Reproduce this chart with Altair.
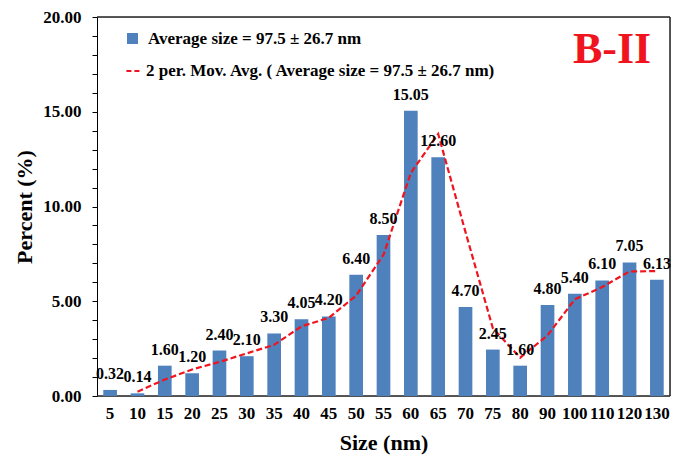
import altair as alt
import pandas as pd

sizes = ["5", "10", "15", "20", "25", "30", "35", "40", "45", "50", "55",
         "60", "65", "70", "75", "80", "90", "100", "110", "120", "130"]
percents = [0.32, 0.14, 1.60, 1.20, 2.40, 2.10, 3.30, 4.05, 4.20, 6.40, 8.50,
            15.05, 12.60, 4.70, 2.45, 1.60, 4.80, 5.40, 6.10, 7.05, 6.13]
bar_series = "Average size = 97.5 ± 26.7 nm"
avg_series = "2 per. Mov. Avg. ( Average size = 97.5 ± 26.7 nm)"
y_ticks = list(range(0, 21))

df = pd.DataFrame({"size": sizes, "percent": percents, "order": range(len(sizes))})

FONT = "Liberation Serif"
BLUE = "#4f81bd"
RED = "#f0141e"
W, H = 573, 379

x_scale = alt.Scale(paddingInner=0.5, paddingOuter=0.23)
y_scale = alt.Scale(domain=[0, 20], nice=False)

x_axis = alt.Axis(labelAngle=0, ticks=False, domain=False, labelPadding=9,
                  labelFontSize=17, labelFontWeight="bold", labelFont=FONT,
                  labelColor="black", labelOverlap=False,
                  titleFont=FONT, titleFontSize=22, titleFontWeight="bold",
                  titleColor="black", titlePadding=11)
y_axis = alt.Axis(values=y_ticks, grid=False, tickSize=5, tickColor="black",
                  domainColor="black", labelOverlap=False, labelBound=False,
                  labelExpr="datum.value % 5 == 0 ? format(datum.value, '.2f') : ''",
                  labelFontSize=17, labelFontWeight="bold", labelFont=FONT,
                  labelColor="black", labelPadding=11,
                  titleFont=FONT, titleFontSize=22, titleFontWeight="bold",
                  titleColor="black", titlePadding=6)


def x_enc():
    return alt.X("size:N", sort=sizes, title="Size (nm)", scale=x_scale, axis=x_axis)


def y_enc(field):
    return alt.Y(field, scale=y_scale, title="Percent (%)", axis=y_axis)


# plot-area border drawn as three rules (the y-axis domain is the left side)
one = pd.DataFrame({"k": [0]})
border_style = dict(color="#222222", strokeWidth=1.5)
top = alt.Chart(one).mark_rule(**border_style).encode(
    x=alt.value(0), x2=alt.value(W), y=alt.value(0))
bottom = alt.Chart(one).mark_rule(**border_style).encode(
    x=alt.value(0), x2=alt.value(W), y=alt.value(H))
right = alt.Chart(one).mark_rule(**border_style).encode(
    x=alt.value(W), y=alt.value(0), y2=alt.value(H))

base = alt.Chart(df)

bars = base.transform_calculate(series=f"'{bar_series}'").mark_bar(color=BLUE).encode(
    x=x_enc(),
    y=y_enc("percent:Q"),
    fill=alt.Fill("series:N", scale=alt.Scale(range=[BLUE]),
                  legend=alt.Legend(orient="none", legendX=27, legendY=13, title=None,
                                    symbolType="square", symbolSize=120,
                                    labelLimit=0, labelOffset=7,
                                    labelFont=FONT, labelFontSize=17,
                                    labelFontWeight="bold", labelColor="black")),
)

labels = base.mark_text(dy=-16, font=FONT, fontSize=16,
                        fontWeight="bold", color="black").encode(
    x=x_enc(),
    y=y_enc("percent:Q"),
    text=alt.Text("percent:Q", format=".2f"),
)

# two-period moving average of the distribution
moving_avg = base.transform_window(
    avg="mean(percent)", idx="row_number()", frame=[-1, 0], sort=[{"field": "order"}]
).transform_filter("datum.idx > 1").transform_calculate(
    series=f"'{avg_series}'"
).mark_line(strokeDash=[6, 3], strokeWidth=2.2).encode(
    x=x_enc(),
    y=y_enc("avg:Q"),
    order="order:Q",
    stroke=alt.Stroke("series:N", scale=alt.Scale(range=[RED]),
                      legend=alt.Legend(orient="none", legendX=28, legendY=45, title=None,
                                        symbolType="stroke", symbolDash=[5, 3],
                                        symbolStrokeWidth=2.2, symbolSize=230,
                                        labelLimit=0, labelOffset=3,
                                        labelFont=FONT, labelFontSize=17,
                                        labelFontWeight="bold", labelColor="black")),
)

tag = alt.Chart(pd.DataFrame({"t": ["B-II"]})).mark_text(
    font=FONT, fontSize=44, fontWeight="bold", color=RED, align="center"
).encode(x=alt.value(515), y=alt.value(33), text="t:N")

chart = alt.layer(top, bottom, right, bars, moving_avg, labels, tag).properties(
    width=W, height=H,
    padding={"left": 97, "top": 17, "right": 11, "bottom": 62},
    autosize=alt.AutoSizeParams(type="none"),
).configure_view(stroke="#222222", strokeWidth=1.5).configure(background="white")

chart.save("out.html", embed_options={"renderer": "svg", "actions": False})
